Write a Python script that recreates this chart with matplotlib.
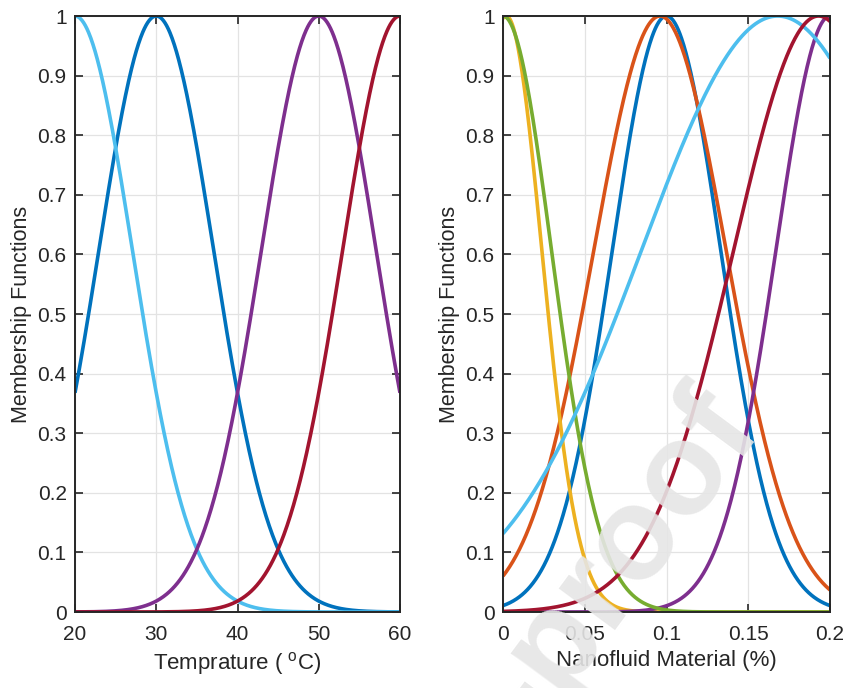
import numpy as np
import matplotlib
matplotlib.use("Agg")
import matplotlib.pyplot as plt

plt.rcParams['font.family'] = ['Liberation Sans', 'DejaVu Sans']
plt.rcParams['mathtext.fontset'] = 'custom'
plt.rcParams['mathtext.rm'] = 'Liberation Sans'

# gaussian membership functions: centre and spread of each MF
temp_range = [20, 60]
temp_centers = [30, 20, 50, 60]
temp_sigmas = [7.07, 7.07, 7.07, 7.07]
temp_colors = ['#0072BD', '#4DBEEE', '#7E2F8E', '#A2142F']
temp_ticks = [20, 30, 40, 50, 60]

nano_range = [0, 0.2]
nano_centers = [0.100, 0.096, 0.002, 0.200, 0.000, 0.168, 0.193]
nano_sigmas = [0.0332, 0.0405, 0.0218, 0.0331, 0.0297, 0.0834, 0.0520]
nano_colors = ['#0072BD', '#D95319', '#EDB120', '#7E2F8E', '#77AC30', '#4DBEEE', '#A2142F']
nano_ticks = [0, 0.05, 0.1, 0.15, 0.2]
nano_ticklabels = ['0', '0.05', '0.1', '0.15', '0.2']

y_ticks = np.round(np.arange(0, 1.01, 0.1), 1)
y_ticklabels = ['0'] + ['%.1f' % v for v in y_ticks[1:-1]] + ['1']


def gaussmf(x, c, s):
    return np.exp(-(x - c) ** 2 / (2 * s ** 2))


def style_axes(ax):
    ax.set_ylim(0, 1)
    ax.set_yticks(y_ticks)
    ax.set_yticklabels(y_ticklabels)
    ax.grid(True, color='#e3e3e3', linewidth=0.9)
    ax.set_axisbelow(True)
    ax.tick_params(direction='in', length=6, width=1.2, top=True, right=True,
                   labelsize=15, colors='#262626', pad=6)
    ax.tick_params(axis='x', pad=9)
    for sp in ax.spines.values():
        sp.set_color('#262626')
        sp.set_linewidth(1.4)
    ax.set_ylabel('Membership Functions', fontsize=15.5, color='#262626', labelpad=4)


fig = plt.figure(figsize=(8.47, 6.88), dpi=100)
ax1 = fig.add_axes([75 / 847, 1 - 612 / 688, 325 / 847, 596 / 688])
ax2 = fig.add_axes([503 / 847, 1 - 612 / 688, 327 / 847, 596 / 688])

x1 = np.linspace(temp_range[0], temp_range[1], 600)
for c, s, col in zip(temp_centers, temp_sigmas, temp_colors):
    ax1.plot(x1, gaussmf(x1, c, s), color=col, linewidth=2.6, solid_capstyle='butt')
ax1.set_xlim(*temp_range)
ax1.set_xticks(temp_ticks)
style_axes(ax1)
ax1.set_xlabel(r'Temprature ( $^{\rm o}$C)', fontsize=16, color='#262626', labelpad=5)

x2 = np.linspace(nano_range[0], nano_range[1], 600)
for c, s, col in zip(nano_centers, nano_sigmas, nano_colors):
    ax2.plot(x2, gaussmf(x2, c, s), color=col, linewidth=2.6, solid_capstyle='butt')
ax2.set_xlim(*nano_range)
ax2.set_xticks(nano_ticks)
ax2.set_xticklabels(nano_ticklabels)
style_axes(ax2)
ax2.set_xlabel('Nanofluid Material (%)', fontsize=16, color='#262626', labelpad=5)

# light watermark across the lower right
fig.text(735 / 847, 1 - 410 / 688, 'Journal Pre-proof', fontsize=95, fontweight='bold',
         color='#e6e6e6', alpha=0.9, rotation=53.5, rotation_mode='anchor',
         ha='right', va='center', zorder=10)

fig.savefig('out.png', dpi=100)
